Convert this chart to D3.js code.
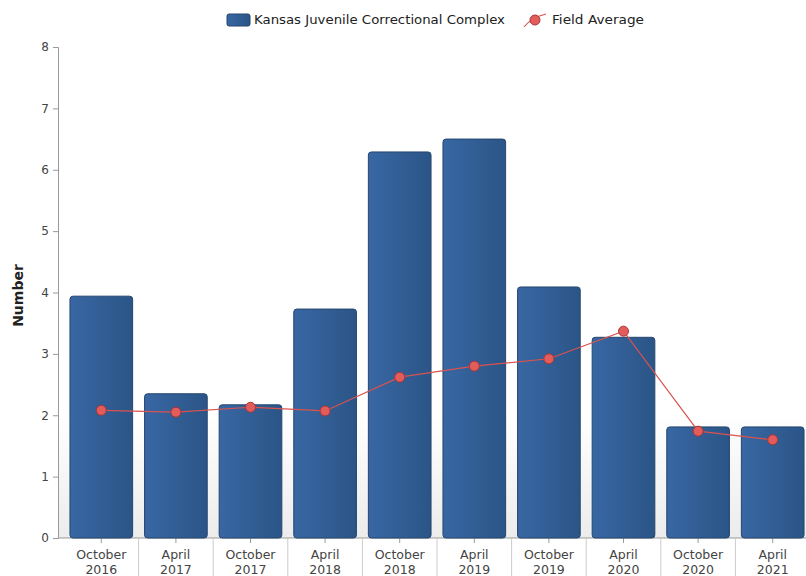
<!DOCTYPE html>
<html>
<head>
<meta charset="utf-8">
<script src="https://cdn.jsdelivr.net/npm/d3@7"></script>
<style>
  html, body { margin: 0; padding: 0; background: #fff; }
  svg { display: block; font-family: "DejaVu Sans", "Open Sans", sans-serif; }
</style>
</head>
<body>
<svg id="chart" width="806" height="576"></svg>
<script>
// Survey periods and values
const periods = ["October 2016", "April 2017", "October 2017", "April 2018", "October 2018",
                 "April 2019", "October 2019", "April 2020", "October 2020", "April 2021"];
const facilityValues = [3.94, 2.35, 2.17, 3.73, 6.29, 6.50, 4.09, 3.27, 1.81, 1.81];
const fieldAverage = [2.08, 2.05, 2.13, 2.07, 2.62, 2.80, 2.92, 3.37, 1.74, 1.60];
const yTicks = [0, 1, 2, 3, 4, 5, 6, 7, 8];
const seriesNames = ["Kansas Juvenile Correctional Complex", "Field Average"];

const svg = d3.select("#chart");
const font = '"DejaVu Sans", "Open Sans", sans-serif';
const axisX = 58, plotRight = 806, plotTop = 47, plotBottom = 538;

const x = d3.scaleBand().domain(periods).range([64, 810]).paddingInner(0.16).paddingOuter(0.08);
const y = d3.scaleLinear().domain([0, 8]).range([plotBottom, plotTop]);

const defs = svg.append("defs");
const barGrad = defs.append("linearGradient").attr("id", "barGrad").attr("x1", 0).attr("x2", 1).attr("y1", 0).attr("y2", 0);
barGrad.append("stop").attr("offset", "0%").attr("stop-color", "#3867a3");
barGrad.append("stop").attr("offset", "100%").attr("stop-color", "#2b5587");
const bgGrad = defs.append("linearGradient").attr("id", "bgGrad").attr("x1", 0).attr("x2", 0).attr("y1", 0).attr("y2", 1);
bgGrad.append("stop").attr("offset", "0%").attr("stop-color", "#ffffff");
bgGrad.append("stop").attr("offset", "75%").attr("stop-color", "#ffffff");
bgGrad.append("stop").attr("offset", "100%").attr("stop-color", "#ececec");

// plot background
svg.append("rect").attr("x", axisX).attr("y", plotTop).attr("width", plotRight - axisX)
  .attr("height", plotBottom - plotTop).attr("fill", "url(#bgGrad)");

// y axis
const yAxis = svg.append("g").attr("transform", `translate(${axisX},0)`)
  .call(d3.axisLeft(y).tickValues(yTicks).tickSize(5).tickPadding(4).tickFormat(d3.format("d")))
  .attr("font-family", font);
yAxis.select(".domain").attr("stroke", "#999");
yAxis.selectAll(".tick line").attr("stroke", "#999");
yAxis.selectAll(".tick text").attr("fill", "#444").style("font-size", "12px");

// x axis
const xAxis = svg.append("g").attr("transform", `translate(0,${plotBottom})`)
  .call(d3.axisBottom(x).tickSize(5).tickFormat(""))
  .attr("font-family", font);
xAxis.select(".domain").remove();
xAxis.selectAll(".tick line").attr("stroke", "#999");
svg.append("line").attr("x1", axisX).attr("x2", plotRight).attr("y1", plotBottom).attr("y2", plotBottom)
  .attr("stroke", "#999");
// separators between categories
const step = x.step();
svg.append("g").selectAll("line").data(periods.slice(1)).join("line")
  .attr("x1", d => x(d) + x.bandwidth() / 2 - step / 2)
  .attr("x2", d => x(d) + x.bandwidth() / 2 - step / 2)
  .attr("y1", plotBottom).attr("y2", 576).attr("stroke", "#ccc");
xAxis.selectAll(".tick").each(function(d) {
  const parts = d.split(" ");
  const t = d3.select(this).append("text").attr("fill", "#444").attr("text-anchor", "middle")
    .style("font-size", "12.5px");
  t.append("tspan").attr("x", 0).attr("y", 21).text(parts[0]);
  t.append("tspan").attr("x", 0).attr("y", 36).text(parts[1]);
});

// y axis title
svg.append("text").attr("transform", `translate(23,${(plotTop + plotBottom) / 2 + 3}) rotate(-90)`)
  .attr("text-anchor", "middle").style("font-size", "14px").style("font-weight", "bold")
  .attr("fill", "#222").text("Number");

// bars
svg.append("g").selectAll("rect").data(periods).join("rect")
  .attr("x", d => x(d)).attr("width", x.bandwidth())
  .attr("y", (d, i) => y(facilityValues[i]))
  .attr("height", (d, i) => y(0) - y(facilityValues[i]))
  .attr("rx", 3).attr("ry", 3)
  .attr("fill", "url(#barGrad)").attr("stroke", "#24466f").attr("stroke-width", 1);

// field average line and markers
const cx = d => x(d) + x.bandwidth() / 2;
svg.append("path").datum(periods)
  .attr("d", d3.line().x(cx).y((d, i) => y(fieldAverage[i])))
  .attr("fill", "none").attr("stroke", "#d9534f").attr("stroke-width", 1.2);
svg.append("g").selectAll("circle").data(periods).join("circle")
  .attr("cx", cx).attr("cy", (d, i) => y(fieldAverage[i])).attr("r", 5)
  .attr("fill", "#e25c5c").attr("stroke", "#a83434").attr("stroke-width", 1);

// legend
const legend = svg.append("g");
legend.append("rect").attr("x", 227).attr("y", 14).attr("width", 23).attr("height", 12).attr("rx", 2)
  .attr("fill", "url(#barGrad)").attr("stroke", "#24466f");
legend.append("text").attr("x", 254).attr("y", 24).style("font-size", "12.5px").attr("fill", "#222")
  .attr("textLength", 251).attr("lengthAdjust", "spacingAndGlyphs")
  .text(seriesNames[0]);
legend.append("path").attr("d", "M524,27 Q532,17 546,14")
  .attr("fill", "none").attr("stroke", "#d9534f").attr("stroke-width", 1.2);
legend.append("circle").attr("cx", 535).attr("cy", 20).attr("r", 5)
  .attr("fill", "#e25c5c").attr("stroke", "#a83434");
legend.append("text").attr("x", 552).attr("y", 24).style("font-size", "12.5px").attr("fill", "#222")
  .attr("textLength", 92).attr("lengthAdjust", "spacingAndGlyphs")
  .text(seriesNames[1]);
</script>
</body>
</html>
